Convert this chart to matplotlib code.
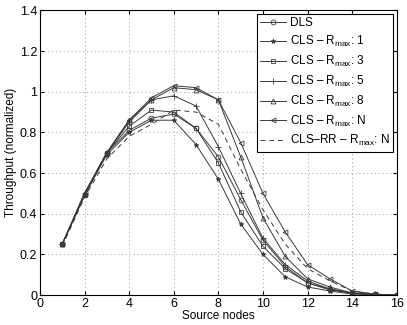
import matplotlib
matplotlib.use("Agg")
import matplotlib.pyplot as plt

plt.rcParams['font.family'] = ['Liberation Sans', 'DejaVu Sans']
plt.rcParams['mathtext.fontset'] = 'custom'
plt.rcParams['mathtext.rm'] = 'Liberation Sans'

nodes = list(range(1, 17))
dls = [0.25, 0.49, 0.70, 0.81, 0.87, 0.89, 0.82, 0.68, 0.47, 0.27, 0.14, 0.06, 0.03, 0.01, 0.003, 0.0]
cls1 = [0.25, 0.49, 0.69, 0.80, 0.86, 0.86, 0.74, 0.57, 0.35, 0.20, 0.09, 0.04, 0.02, 0.005, 0.002, 0.0]
cls3 = [0.25, 0.49, 0.70, 0.83, 0.91, 0.90, 0.82, 0.65, 0.41, 0.24, 0.13, 0.06, 0.025, 0.01, 0.003, 0.0]
cls5 = [0.25, 0.50, 0.70, 0.85, 0.96, 0.98, 0.93, 0.73, 0.50, 0.28, 0.15, 0.07, 0.03, 0.01, 0.003, 0.0]
cls8 = [0.25, 0.50, 0.70, 0.86, 0.96, 1.02, 1.01, 0.96, 0.68, 0.38, 0.19, 0.08, 0.04, 0.01, 0.003, 0.0]
clsn = [0.25, 0.50, 0.70, 0.86, 0.97, 1.03, 1.02, 0.96, 0.75, 0.50, 0.31, 0.15, 0.08, 0.02, 0.005, 0.0]
clsrr = [0.24, 0.48, 0.67, 0.78, 0.84, 0.91, 0.90, 0.84, 0.62, 0.42, 0.25, 0.13, 0.07, 0.02, 0.005, 0.0]

rmax = r'$\mathregular{R_{max}}$'
labels = ['DLS', 'CLS \u2013 ' + rmax + ': 1', 'CLS \u2013 ' + rmax + ': 3',
          'CLS \u2013 ' + rmax + ': 5', 'CLS \u2013 ' + rmax + ': 8',
          'CLS \u2013 ' + rmax + ': N', 'CLS\u2013RR \u2013 ' + rmax + ': N']

fig = plt.figure(figsize=(4.07, 3.25), dpi=100)
ax = fig.add_axes([0.098, 0.092, 0.877, 0.876])

c = '#3a3a3a'
lw = 0.7
ax.plot(nodes, dls, color=c, lw=lw, marker='o', ms=3.5, mfc='none', mew=0.6, label=labels[0])
ax.plot(nodes, cls1, color=c, lw=lw, marker='*', ms=3.5, mew=0.6, label=labels[1])
ax.plot(nodes, cls3, color=c, lw=lw, marker='s', ms=3.5, mfc='none', mew=0.6, label=labels[2])
ax.plot(nodes, cls5, color=c, lw=lw, marker='+', ms=4.5, mew=0.6, label=labels[3])
ax.plot(nodes, cls8, color=c, lw=lw, marker='^', ms=3.5, mfc='none', mew=0.6, label=labels[4])
ax.plot(nodes, clsn, color=c, lw=lw, marker='<', ms=3.5, mfc='none', mew=0.6, label=labels[5])
ax.plot(nodes, clsrr, color=c, lw=lw, ls=(0, (5, 4)), label=labels[6])

ax.set_xlim(0, 16)
ax.set_ylim(0, 1.4)
ax.set_xticks(range(0, 17, 2))
ax.set_yticks([0, 0.2, 0.4, 0.6, 0.8, 1, 1.2, 1.4])
ax.set_yticklabels(['0', '0.2', '0.4', '0.6', '0.8', '1', '1.2', '1.4'])
ax.grid(True, ls=(0, (1, 3)), color='#999999', lw=0.7)
ax.tick_params(direction='in', labelsize=9, length=3, pad=2, top=True, right=True)
for s in ax.spines.values():
    s.set_linewidth(0.8)
ax.set_xlabel('Source nodes', fontsize=8.5, labelpad=0)
ax.set_ylabel('Throughput (normalized)', fontsize=8.5, labelpad=2)

leg = ax.legend(loc='upper right', fontsize=8.5, fancybox=False, framealpha=1,
                edgecolor='black', handlelength=2.2, borderaxespad=0.3,
                labelspacing=0.4, handletextpad=0.3, borderpad=0.3)
leg.get_frame().set_linewidth(0.8)

fig.savefig('out.png', dpi=100)
